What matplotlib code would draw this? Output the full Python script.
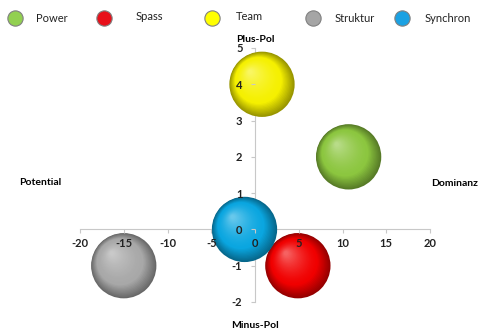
import numpy as np
import matplotlib.pyplot as plt
import matplotlib.transforms as mtransforms
from matplotlib.lines import Line2D
from matplotlib.colors import to_rgb

plt.rcParams['font.family'] = ['Lato', 'DejaVu Sans']
plt.rcParams['axes.unicode_minus'] = False

# bubble data
names = ['Power', 'Spass', 'Team', 'Struktur', 'Synchron']
x_vals = [10.7, 4.9, 0.8, -15.0, -1.2]
y_vals = [2.0, -1.0, 4.0, -1.0, 0.0]
colors = ['#8CC63F', '#F00000', '#F5F000', '#A8A8A8', '#0AA6E0']
legend_colors = ['#92D050', '#E8101A', '#FFFF00', '#A5A5A5', '#1BA1E2']

x_ticks = [-20, -15, -10, -5, 0, 5, 10, 15, 20]
y_ticks = [-2, -1, 0, 1, 2, 3, 4, 5]

fig = plt.figure(figsize=(4.81, 3.32), dpi=100)
ax = fig.add_axes([80 / 481, 30 / 332, 350 / 481, 254 / 332])
ax.set_xlim(-20, 20)
ax.set_ylim(-2, 5)
ax.set_axisbelow(False)

# axes crossing at origin
ax.spines['left'].set_position(('data', 0))
ax.spines['bottom'].set_position(('data', 0))
ax.spines['top'].set_visible(False)
ax.spines['right'].set_visible(False)
for s in ['left', 'bottom']:
    ax.spines[s].set_color('#C8C8C8')
    ax.spines[s].set_linewidth(0.8)
    ax.spines[s].set_zorder(0.5)
ax.set_xticks(x_ticks)
ax.set_yticks(y_ticks)
ax.tick_params(colors='#C8C8C8', length=3, width=0.8, labelsize=8, labelcolor='#222222')
ax.tick_params(axis='y', pad=6)
for lab in ax.get_xticklabels() + ax.get_yticklabels():
    lab.set_fontweight('bold')

# fake 3d spheres with stacked circles
R = 23.5  # radius in points
n = 34
for j, (x, y, c) in enumerate(zip(x_vals, y_vals, colors)):
    base = np.array(to_rgb(c))
    for i in range(n):
        t = i / (n - 1)
        r = R * (1 - 0.93 * t)
        if t < 0.3:
            col = base * (0.62 + 0.38 * t / 0.3)
        else:
            k = (t - 0.3) / 0.7
            col = base * (1 - 0.38 * k ** 1.5) + np.ones(3) * 0.38 * k ** 1.5
        col = np.clip(col, 0, 1)
        off = mtransforms.ScaledTranslation(-0.36 * R * t / 72, 0.38 * R * t / 72, fig.dpi_scale_trans)
        ax.scatter([x], [y], s=(2 * r) ** 2, color=col, edgecolors='none',
                   transform=ax.transData + off, zorder=1 + j * 0.2 + i * 0.005, clip_on=False)

# pole labels
fig.text(255 / 481, 1 - 40 / 332, 'Plus-Pol', ha='center', va='center', fontsize=7.5, fontweight='bold')
fig.text(255 / 481, 1 - 325 / 332, 'Minus-Pol', ha='center', va='center', fontsize=7.5, fontweight='bold')
fig.text(40 / 481, 1 - 182 / 332, 'Potential', ha='center', va='center', fontsize=7.5, fontweight='bold')
fig.text(455 / 481, 1 - 184 / 332, 'Dominanz', ha='center', va='center', fontsize=7.5, fontweight='bold')

# legend, placed entry by entry (uneven spacing as in the original)
marker_px = [15, 104, 212, 313, 402]
text_px = [36, 136, 236, 335, 425]
text_py = [19, 16, 17, 19, 19]
for name, lc, mx, tx, ty in zip(names, legend_colors, marker_px, text_px, text_py):
    fig.add_artist(Line2D([mx / 481], [1 - 18 / 332], marker='o', linestyle='none', markersize=11,
                          markerfacecolor=lc, markeredgecolor='#808080', markeredgewidth=0.8,
                          transform=fig.transFigure))
    fig.text(tx / 481, 1 - ty / 332, name, ha='left', va='center', fontsize=8, color='#222222')

fig.savefig('out.png', dpi=100)
